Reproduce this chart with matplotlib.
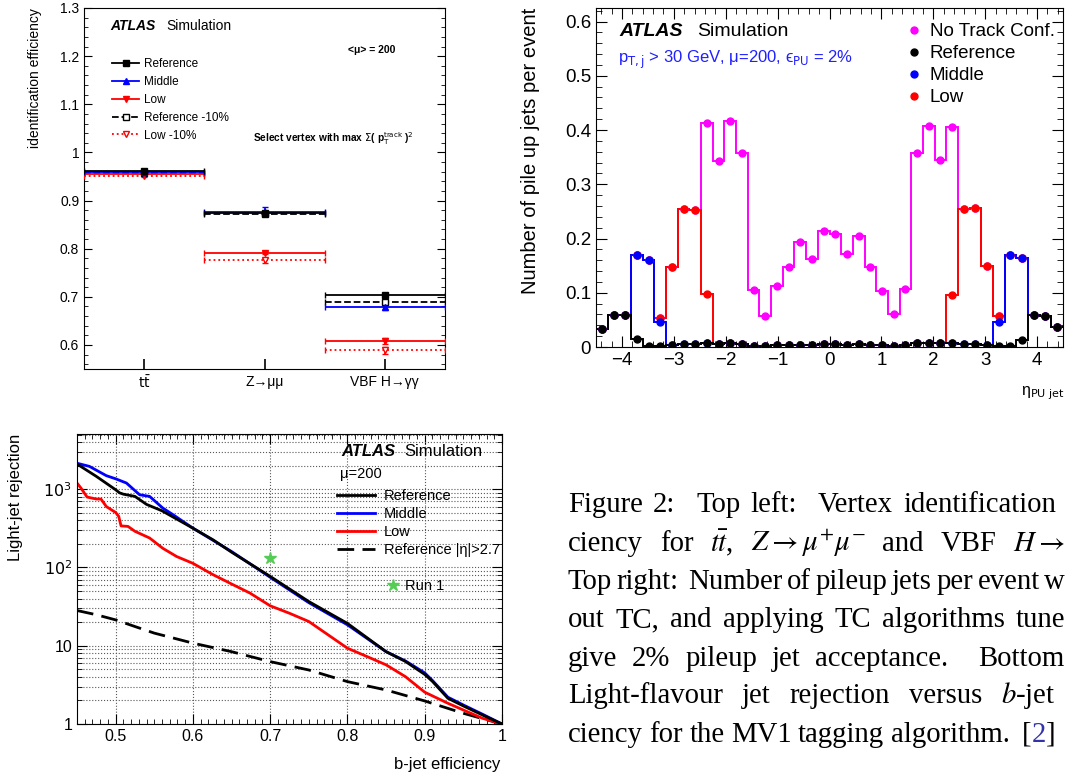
import numpy as np
import matplotlib
matplotlib.use('Agg')
import matplotlib.pyplot as plt
from matplotlib.lines import Line2D
from matplotlib.ticker import MultipleLocator, FixedLocator, FuncFormatter, LogLocator, NullFormatter

plt.rcParams['font.family'] = ['Liberation Sans', 'DejaVu Sans']
plt.rcParams['mathtext.fontset'] = 'dejavusans'
plt.rcParams['xtick.direction'] = 'in'
plt.rcParams['ytick.direction'] = 'in'

W, H = 1067, 778

# top left: vertex identification efficiency
categories = [r'$\mathrm{t\bar{t}}$', 'Z→μμ', 'VBF H→γγ']
eff_ref = [0.961, 0.875, 0.703]
eff_mid = [0.959, 0.877, 0.678]
eff_low = [0.955, 0.792, 0.608]
eff_ref10 = [0.958, 0.873, 0.689]
eff_low10 = [0.951, 0.776, 0.589]
err_ref = [0.003, 0.004, 0.005]
err_mid = [0.003, 0.010, 0.005]
err_low = [0.003, 0.004, 0.006]
err_ref10 = [0.003, 0.004, 0.005]
err_low10 = [0.003, 0.005, 0.007]

# top right: pile-up jets per event vs eta (40 bins, -4.5..4.5)
eta_edges = np.linspace(-4.5, 4.5, 41)
pu_notc = [0.034, 0.059, 0.059, 0.170, 0.161, 0.054, 0.147, 0.255, 0.253, 0.413,
           0.343, 0.417, 0.357, 0.106, 0.058, 0.112, 0.148, 0.194, 0.162, 0.213,
           0.208, 0.171, 0.205, 0.147, 0.103, 0.061, 0.107, 0.358, 0.407, 0.344,
           0.405, 0.255, 0.256, 0.149, 0.057, 0.170, 0.164, 0.059, 0.058, 0.037]
pu_ref = [0.034, 0.059, 0.059, 0.014, 0.002, 0.001, 0.003, 0.005, 0.006, 0.008,
          0.006, 0.008, 0.006, 0.002, 0.001, 0.003, 0.003, 0.004, 0.004, 0.005,
          0.005, 0.004, 0.005, 0.004, 0.003, 0.002, 0.003, 0.007, 0.008, 0.007,
          0.008, 0.006, 0.006, 0.004, 0.001, 0.002, 0.013, 0.059, 0.058, 0.037]
pu_mid = [0.034, 0.059, 0.059, 0.170, 0.160, 0.046, 0.003, 0.005, 0.006, 0.008,
          0.006, 0.008, 0.006, 0.002, 0.001, 0.003, 0.003, 0.004, 0.004, 0.005,
          0.005, 0.004, 0.005, 0.004, 0.003, 0.002, 0.003, 0.007, 0.008, 0.007,
          0.008, 0.006, 0.006, 0.004, 0.046, 0.170, 0.164, 0.059, 0.058, 0.037]
pu_low = [0.034, 0.059, 0.059, 0.170, 0.161, 0.054, 0.147, 0.255, 0.253, 0.098,
          0.006, 0.008, 0.006, 0.002, 0.001, 0.003, 0.003, 0.004, 0.004, 0.005,
          0.005, 0.004, 0.005, 0.004, 0.003, 0.002, 0.003, 0.007, 0.008, 0.007,
          0.095, 0.255, 0.256, 0.149, 0.057, 0.170, 0.164, 0.059, 0.058, 0.037]

# bottom left: light-jet rejection vs b-jet efficiency
beff_ref = [0.45, 0.475, 0.5, 0.505, 0.51, 0.525, 0.54, 0.56, 0.6, 0.626, 0.65, 0.7,
            0.75, 0.8, 0.85, 0.875, 0.9, 0.91, 0.93, 0.95, 0.975, 1.0]
rej_ref = [2100, 1460, 985, 900, 865, 810, 640, 530, 318, 226, 157, 77,
           36.7, 19.3, 8.4, 6.3, 4.3, 3.5, 2.13, 1.70, 1.30, 1.0]
beff_mid = [0.45, 0.466, 0.488, 0.5, 0.514, 0.531, 0.544, 0.561, 0.574, 0.6, 0.65, 0.7,
            0.75, 0.8, 0.85, 0.875, 0.9, 0.91, 0.93, 0.95, 0.975, 1.0]
rej_mid = [2150, 1960, 1490, 1360, 1200, 850, 810, 575, 475, 318, 160, 75,
           35.5, 18.5, 8.4, 6.4, 4.5, 3.6, 2.2, 1.75, 1.33, 1.0]
beff_low = [0.45, 0.455, 0.463, 0.475, 0.481, 0.488, 0.5, 0.504, 0.507, 0.516, 0.525,
            0.544, 0.561, 0.579, 0.6, 0.626, 0.65, 0.674, 0.7, 0.725, 0.75, 0.8,
            0.825, 0.85, 0.875, 0.9, 0.93, 0.95, 0.975, 1.0]
rej_low = [1200, 1040, 795, 750, 750, 600, 505, 450, 340, 335, 290,
           238, 176, 138, 113, 81, 61.6, 47, 32.4, 26, 20.4, 9.3,
           7.3, 5.7, 4.03, 2.55, 1.84, 1.51, 1.18, 1.0]
beff_fwd = [0.45, 0.475, 0.5, 0.525, 0.55, 0.6, 0.65, 0.7, 0.75, 0.8, 0.85, 0.9, 0.95, 1.0]
rej_fwd = [28.2, 24.9, 21.4, 17.6, 14.5, 10.8, 8.4, 6.27, 4.9, 3.48, 2.72, 1.97, 1.37, 1.0]
run1_eff = [0.70]
run1_rej = [131]


def px_axes(fig, left, top, right, bottom):
    return fig.add_axes([left / W, 1 - bottom / H, (right - left) / W, (bottom - top) / H])


def ftext(fig, x, y, s, **kw):
    kw.setdefault('va', 'center')
    return fig.text(x / W, 1 - y / H, s, **kw)


def fpos(x, y):
    return (x / W, 1 - y / H)


fig = plt.figure(figsize=(W / 100, H / 100), dpi=100)
gfmt = FuncFormatter(lambda v, p: f'{v:g}')

# ---------------- top left ----------------
ax1 = px_axes(fig, 84, 8, 445, 369)
xpos = np.arange(len(categories))
series = [
    (eff_low10, err_low10, 'v', 'white', 'red', ':', 'Low -10%'),
    (eff_ref10, err_ref10, 's', 'white', 'black', '--', 'Reference -10%'),
    (eff_low, err_low, 'v', 'red', 'red', '-', 'Low'),
    (eff_mid, err_mid, '^', 'blue', 'blue', '-', 'Middle'),
    (eff_ref, err_ref, 's', 'black', 'black', '-', 'Reference'),
]
handles = {}
for vals, errs, mk, fc, col, ls, lab in series:
    eb = ax1.errorbar(xpos, vals, xerr=0.5, yerr=errs, fmt=mk, ms=4.5, mfc=fc, mec=col,
                      mew=1, ecolor=col, elinewidth=1.3, capsize=2, capthick=1, zorder=3)
    for lc in eb[2]:
        lc.set_linestyle(ls)
    handles[lab] = Line2D([], [], color=col, ls=ls, lw=1.3, marker=mk, ms=4.5, mfc=fc, mec=col)
order = ['Reference', 'Middle', 'Low', 'Reference -10%', 'Low -10%']
ax1.legend([handles[k] for k in order], order, loc='upper left', frameon=False,
           bbox_to_anchor=fpos(112, 58), bbox_transform=fig.transFigure,
           fontsize=8.5, handlelength=2.3, handletextpad=0.4, labelspacing=0.5,
           borderpad=0, borderaxespad=0)
ax1.set_xlim(-0.5, 2.5)
ax1.set_ylim(0.55, 1.3)
ax1.set_xticks(xpos)
ax1.set_xticklabels(categories, fontsize=10)
ax1.yaxis.set_major_locator(MultipleLocator(0.1))
ax1.yaxis.set_minor_locator(MultipleLocator(0.02))
ax1.yaxis.set_major_formatter(gfmt)
ax1.tick_params(axis='y', which='both', left=True, right=True, labelsize=10)
ax1.tick_params(axis='y', which='major', length=6)
ax1.tick_params(axis='y', which='minor', length=3)
ax1.tick_params(axis='x', which='major', length=7, width=1.2, top=False, pad=4)
ftext(fig, 35, 8, 'identification efficiency', rotation=90, ha='center', va='top', fontsize=10)
ftext(fig, 110, 26, 'ATLAS', weight='bold', style='italic', fontsize=10)
ftext(fig, 166, 26, 'Simulation', fontsize=10)
ftext(fig, 348, 50, '<μ> = 200', weight='bold', fontsize=7.5)
ftext(fig, 253, 139, r'Select vertex with max $\Sigma$( p$_{\mathrm{T}}^{\mathrm{track}}$ )$^{2}$',
      weight='bold', fontsize=7.3)

# ---------------- top right ----------------
ax2 = px_axes(fig, 596, 8, 1063, 347)
eta_centers = 0.5 * (eta_edges[1:] + eta_edges[:-1])
pu_series = [(pu_notc, '#ff00ff', 'No Track Conf.'), (pu_low, 'red', 'Low'),
             (pu_mid, 'blue', 'Middle'), (pu_ref, 'black', 'Reference')]
pu_handles = {}
for vals, col, lab in pu_series:
    ax2.stairs(vals, eta_edges, color=col, lw=1.4, baseline=None)
    ax2.plot(eta_centers, vals, 'o', color=col, ms=5, zorder=3)
    pu_handles[lab] = Line2D([], [], color=col, ls='none', marker='o', ms=5)
pu_order = ['No Track Conf.', 'Reference', 'Middle', 'Low']
ax2.legend([pu_handles[k] for k in pu_order], pu_order, loc='upper left', frameon=False,
           bbox_to_anchor=fpos(908, 23), bbox_transform=fig.transFigure,
           fontsize=13.5, handlelength=0.6, handletextpad=0.55, labelspacing=0.26,
           borderpad=0, borderaxespad=0)
ax2.set_xlim(-4.5, 4.5)
ax2.set_ylim(0, 0.625)
ax2.xaxis.set_major_locator(MultipleLocator(1))
ax2.xaxis.set_minor_locator(MultipleLocator(0.2))
ax2.yaxis.set_major_locator(MultipleLocator(0.1))
ax2.yaxis.set_minor_locator(MultipleLocator(0.02))
ax2.yaxis.set_major_formatter(gfmt)
ax2.tick_params(which='both', top=True, right=True, labelsize=13.5)
ax2.tick_params(which='major', length=8)
ax2.tick_params(which='minor', length=4)
ftext(fig, 531, 8, 'Number of pile up jets per event', rotation=90, ha='center', va='top',
      fontsize=14.5)
ftext(fig, 1065, 393, 'η$_{\\mathrm{PU\\ jet}}$', ha='right', fontsize=11.5)
ftext(fig, 619, 32, 'ATLAS', weight='bold', style='italic', fontsize=14)
ftext(fig, 697, 32, 'Simulation', fontsize=14)
ftext(fig, 618, 60, 'p$_{\\mathrm{T,j}}$ > 30 GeV, μ=200, ϵ$_{\\mathrm{PU}}$ = 2%',
      color='#2020ff', fontsize=12)

# ---------------- bottom left ----------------
ax3 = px_axes(fig, 77, 434, 502, 724)
ax3.plot(beff_fwd, rej_fwd, color='black', lw=2, ls=(0, (6, 3)), label='Reference |η|>2.7')
ax3.plot(beff_low, rej_low, color='red', lw=2, label='Low')
ax3.plot(beff_mid, rej_mid, color='blue', lw=2, label='Middle')
ax3.plot(beff_ref, rej_ref, color='black', lw=2, label='Reference')
ax3.plot(run1_eff, run1_rej, ls='none', marker='*', ms=9, color='#55cc55', mec='#55cc55')
ax3.set_yscale('log')
ax3.set_xlim(0.45, 1.0)
ax3.set_ylim(1, 5080)
ax3.yaxis.set_major_locator(FixedLocator([1, 10, 100, 1000]))
ax3.yaxis.set_major_formatter(FuncFormatter(
    lambda v, p: {1: '1', 10: '10', 100: '$10^{2}$', 1000: '$10^{3}$'}.get(int(round(v)), '')))
ax3.yaxis.set_minor_locator(LogLocator(base=10, subs=np.arange(2, 10)))
ax3.yaxis.set_minor_formatter(NullFormatter())
ax3.xaxis.set_major_locator(MultipleLocator(0.1))
ax3.xaxis.set_minor_locator(MultipleLocator(0.01))
ax3.xaxis.set_major_formatter(gfmt)
ax3.grid(True, which='both', axis='y', ls=':', color='0.35', lw=0.8)
ax3.grid(True, which='major', axis='x', ls=':', color='0.35', lw=0.8)
ax3.tick_params(which='both', top=True, right=True, labelsize=11.5)
ax3.tick_params(which='major', length=7)
ax3.tick_params(which='minor', length=3.5)
ax3.set_axisbelow(True)
hl = {l.get_label(): l for l in ax3.get_lines()}
bl_order = ['Reference', 'Middle', 'Low', 'Reference |η|>2.7']
leg = ax3.legend([hl[k] for k in bl_order], bl_order, loc='upper left', frameon=False,
                 bbox_to_anchor=fpos(337, 489), bbox_transform=fig.transFigure,
                 fontsize=10.5, handlelength=2.6, handletextpad=0.6, labelspacing=0.27,
                 borderpad=0, borderaxespad=0)
ax3.add_artist(leg)
star = Line2D([], [], ls='none', marker='*', ms=9, color='#55cc55')
ax3.legend([star], ['Run 1'], loc='upper left', frameon=False,
           bbox_to_anchor=fpos(386, 579), bbox_transform=fig.transFigure,
           fontsize=10.5, handlelength=1.0, handletextpad=0.3, borderpad=0, borderaxespad=0)
ftext(fig, 16, 434, 'Light-jet rejection', rotation=90, ha='center', va='top', fontsize=12)
ftext(fig, 500, 765, 'b-jet efficiency', ha='right', fontsize=12)
ftext(fig, 341, 451, 'ATLAS', weight='bold', style='italic', fontsize=12)
ftext(fig, 404, 451, 'Simulation', fontsize=12)
ftext(fig, 340, 474, 'μ=200', fontsize=10.5)

# ---------------- caption ----------------
cap_kw = dict(family='Liberation Serif', fontsize=20.7, math_fontfamily='stix')
caption_lines = [
    (['Figure', '2:', 'Top', 'left:', 'Vertex', 'identification'], 512, 1056),
    (['ciency', 'for', r'$t\bar{t}$,', r'$Z\rightarrow\mu^{+}\mu^{-}$', 'and', 'VBF',
      r'$H\rightarrow$'], 551, 1065),
    (['Top', 'right:', 'Number', 'of', 'pileup', 'jets', 'per', 'event', 'w'], 589, 1065),
    (['out', 'TC,', 'and', 'applying', 'TC', 'algorithms', 'tune'], 627, 1065),
    (['give', '2%', 'pileup', 'jet', 'acceptance.', 'Bottom'], 666, 1064),
    (['Light-flavour', 'jet', 'rejection', 'versus', r'$b$-jet'], 703, 1056),
    (['ciency', 'for', 'the', 'MV1', 'tagging', 'algorithm.',
      [('[', 'black'), ('2', '#3333aa'), (']', 'black')]], 742, 1056),
]
renderer = fig.canvas.get_renderer()
for words, y, x1 in caption_lines:
    groups = []
    for w in words:
        pieces = w if isinstance(w, list) else [(w, 'black')]
        ts = [fig.text(0, 1 - y / H, s, color=c, va='baseline', **cap_kw) for s, c in pieces]
        ws = [t.get_window_extent(renderer).width for t in ts]
        groups.append((ts, ws))
    weights = [2.0 if (isinstance(w, str) and w[-1] in ':.') else 1.0 for w in words[:-1]]
    free = (x1 - 568) - sum(sum(ws) for _, ws in groups)
    unit = max(free / sum(weights), 3.0)
    x = 568
    for i, (ts, ws) in enumerate(groups):
        for t, wd in zip(ts, ws):
            t.set_x(x / W)
            x += wd
        if i < len(weights):
            x += unit * weights[i]

fig.savefig('out.png', dpi=100)
